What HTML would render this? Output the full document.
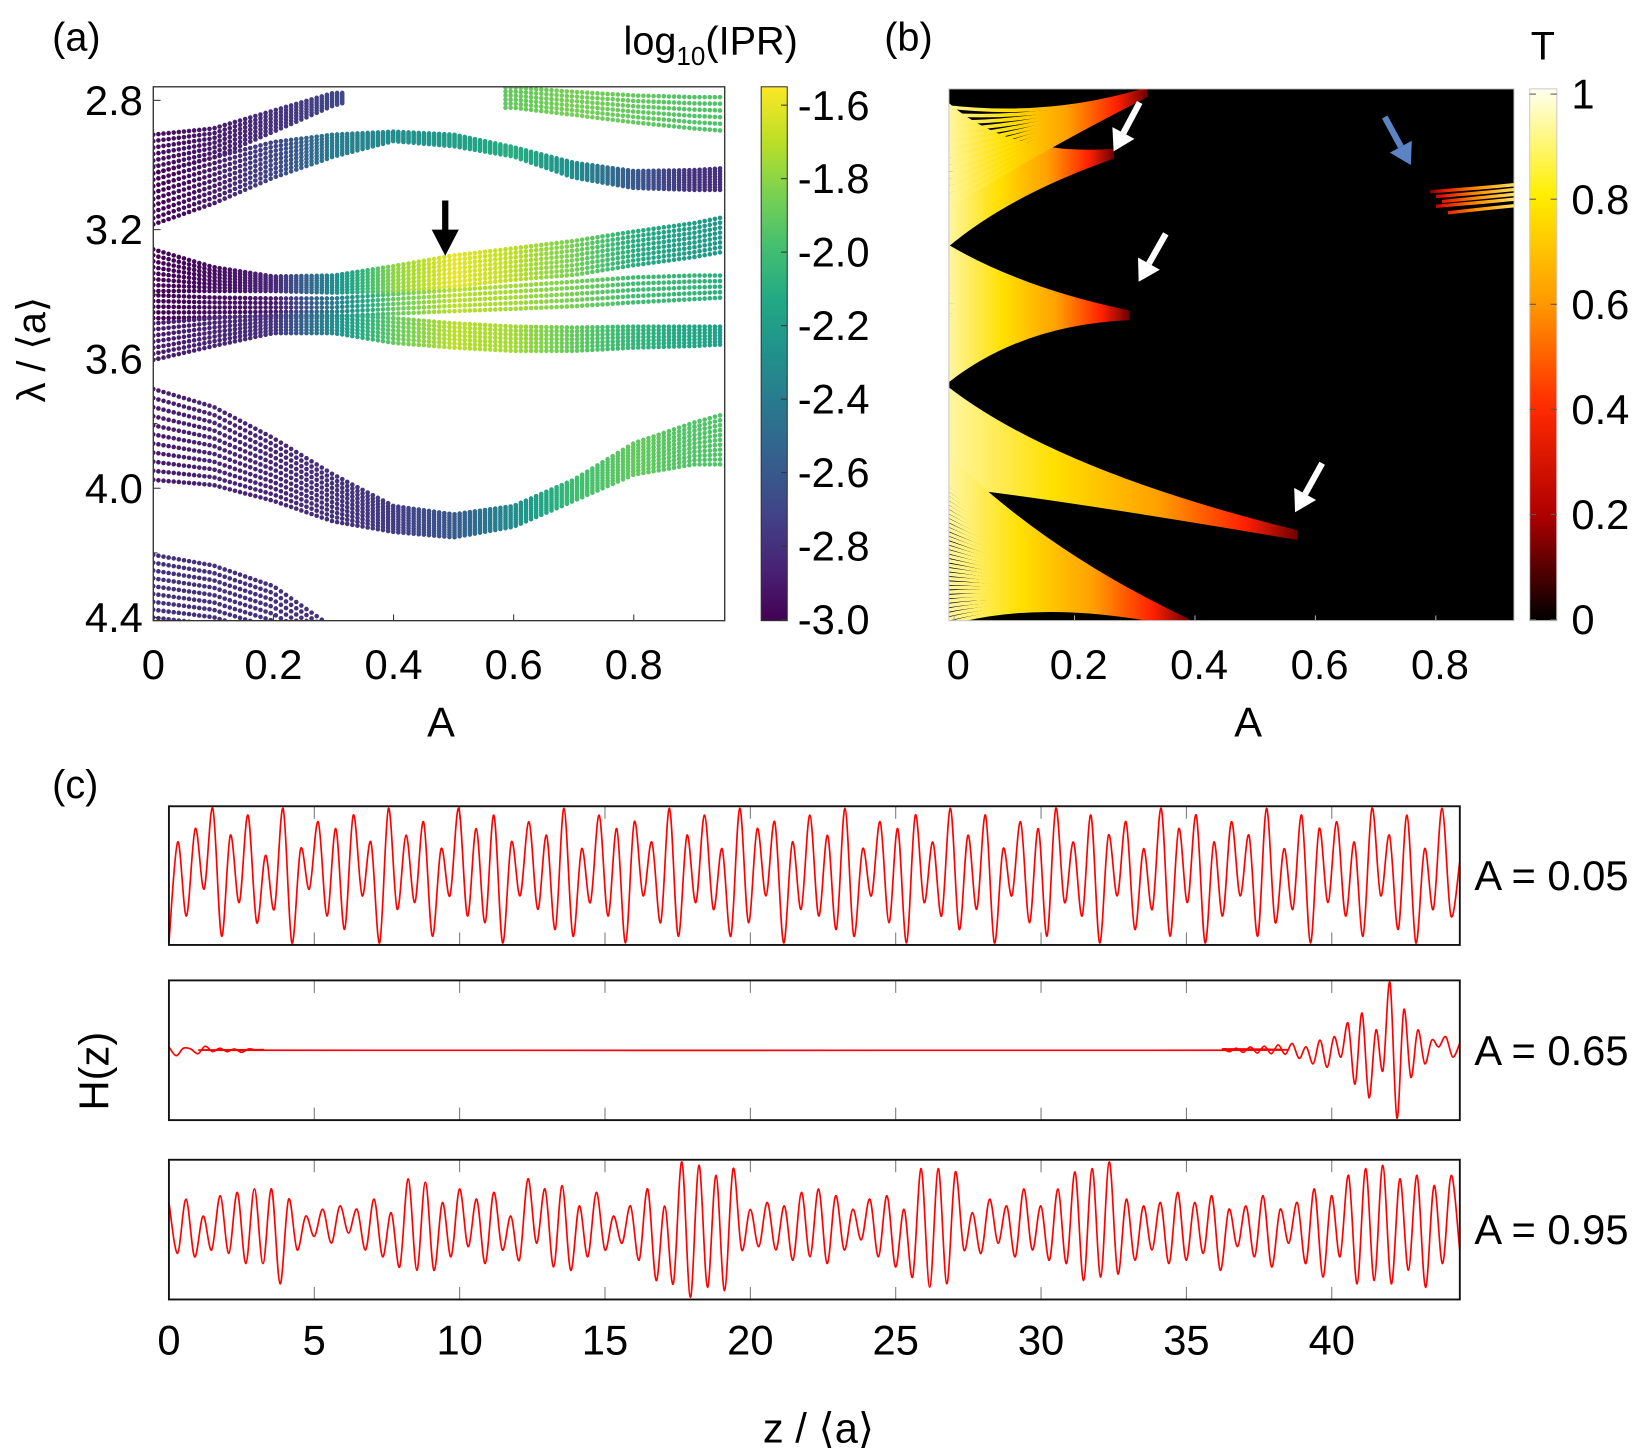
<!DOCTYPE html>
<html><head><meta charset="utf-8"><style>
html,body{margin:0;padding:0;background:#fff;}
svg{display:block;font-family:"Liberation Sans",sans-serif;}
</style></head><body>
<svg id="fig" width="1635" height="1453" viewBox="0 0 1568 1393" xmlns="http://www.w3.org/2000/svg">
<defs>
<linearGradient id="viridis" x1="0" y1="1" x2="0" y2="0">
<stop offset="0" stop-color="#440154"/><stop offset="0.1" stop-color="#482475"/><stop offset="0.2" stop-color="#414487"/><stop offset="0.3" stop-color="#355f8d"/><stop offset="0.4" stop-color="#2a788e"/><stop offset="0.5" stop-color="#21918c"/><stop offset="0.6" stop-color="#22a884"/><stop offset="0.7" stop-color="#44bf70"/><stop offset="0.8" stop-color="#7ad151"/><stop offset="0.9" stop-color="#bddf26"/><stop offset="1" stop-color="#fde725"/>
</linearGradient>
<linearGradient id="hot" x1="0" y1="1" x2="0" y2="0">
<stop offset="0" stop-color="#000"/><stop offset="0.2" stop-color="#b00000"/><stop offset="0.4" stop-color="#ff2a00"/><stop offset="0.6" stop-color="#ff9a00"/><stop offset="0.8" stop-color="#ffee00"/><stop offset="1" stop-color="#fffff0"/>
</linearGradient>
</defs>
<text x="50" y="48" font-size="38">(a)</text>
<text x="848" y="48" font-size="38">(b)</text>
<text x="50" y="765" font-size="38">(c)</text>
<g id="pa"></g>
<g id="pb"></g>
<g id="pc"></g>
</svg>
<script>
// ---------- Panel (a) data ----------
const aGrid=[0,0.1,0.2,0.3,0.4,0.5,0.6,0.7,0.8,0.9,0.95];
const bandNames=['upper-exit','arch','top-right','mid-upper','center','lower-mid','bowl','falling'];
const bandTop=[
 [2.906,2.887,2.832,2.777,null,null,null,null,null,null,null],
 [3.026,2.977,2.929,2.906,2.897,2.906,2.945,2.993,3.019,3.016,3.010],
 [null,null,null,null,null,null,2.760,2.774,2.785,2.790,2.790],
 [3.261,3.316,3.345,3.342,3.313,3.280,3.258,3.235,3.206,3.180,3.161],
 [3.403,3.410,3.413,3.413,3.400,3.387,3.374,3.361,3.348,3.342,3.342],
 [3.490,3.474,3.465,3.465,3.474,3.490,3.500,3.503,3.500,3.500,3.500],
 [3.693,3.748,3.845,3.958,4.055,4.081,4.055,3.974,3.861,3.797,3.771],
 [4.206,4.239,4.303,4.432,null,null,null,null,null,null,null]];
const bandBot=[
 [3.026,2.977,2.897,2.816,2.768,null,null,null,null,null,null],
 [3.184,3.119,3.039,2.974,2.926,2.942,2.974,3.039,3.071,3.077,3.077],
 [null,null,null,null,null,null,2.823,2.845,2.868,2.887,2.894],
 [3.39,3.39,3.39,3.395,3.39,3.375,3.355,3.34,3.31,3.285,3.268],
 [3.474,3.471,3.468,3.468,3.460,3.452,3.445,3.437,3.425,3.415,3.41],
 [3.603,3.56,3.52,3.52,3.55,3.565,3.575,3.575,3.565,3.56,3.555],
 [3.974,3.990,4.039,4.103,4.135,4.152,4.119,4.039,3.958,3.926,3.926],
 [4.497,4.513,4.561,4.62,null,null,null,null,null,null,null]];
const bandLines=[7,9,6,8,5,7,11,13];
const bandIPR=[
 [-2.95,-2.9,-2.8,-2.7,-2.6,-2.6,-2.6,-2.6,-2.6,-2.6,-2.6],
 [-3.0,-2.9,-2.7,-2.4,-2.3,-2.2,-2.1,-2.3,-2.6,-2.8,-2.8],
 [-1.9,-1.9,-1.9,-1.9,-1.9,-1.95,-1.9,-1.85,-1.9,-1.95,-1.95],
 [-3.0,-2.95,-2.85,-2.3,-1.8,-1.6,-1.7,-1.85,-2.1,-2.2,-2.25],
 [-3.0,-2.95,-2.9,-2.4,-1.9,-1.7,-1.75,-1.85,-2.0,-2.05,-2.1],
 [-2.9,-2.85,-2.8,-2.3,-1.9,-1.7,-1.75,-1.9,-2.05,-2.15,-2.2],
 [-2.9,-2.85,-2.85,-2.8,-2.75,-2.6,-2.3,-2.0,-1.9,-1.95,-1.95],
 [-2.8,-2.8,-2.8,-2.8,-2.8,-2.8,-2.8,-2.8,-2.8,-2.8,-2.8]];
const aXTicks=[0,0.2,0.4,0.6,0.8];
const aYTicks=[2.8,3.2,3.6,4.0,4.4];
const aYTickLabels=['2.8','3.2','3.6','4.0','4.4'];
const cbATicks=[-1.6,-1.8,-2.0,-2.2,-2.4,-2.6,-2.8,-3.0];
// ---------- Panel (b) data ----------
const bXTicks=[0,0.2,0.4,0.6,0.8];
const cbBTicks=[0,0.2,0.4,0.6,0.8,1];
const cbBTickLabels=['0','0.2','0.4','0.6','0.8','1'];
const fanLamTop=[2.81,2.82,3.25,3.69,3.90];
const fanLamBot=[3.25,3.13,3.67,3.99,4.42];
const fanTipA=[0.265,0.32,0.29,0.57,0.39];
const fanTipLam=[2.965,2.775,3.465,4.145,4.42];
const fanCtlA=[0.09,0.16,0.11,0.17,0.15];
const fanCtlLam=[3.035,2.87,3.43,4.04,4.30];
const fanCount=[40,14,40,30,38];
const streakLam=[3.07,3.085,3.10,3.115,3.135];
const streakStartA=[0.79,0.80,0.81,0.80,0.82];
// ---------- Panel (c) data ----------
const zTicks=[0,5,10,15,20,25,30,35,40];
const topVals=[-1,0.5,-0.6,0.7,-0.2,1,-0.9,0.6,-0.4,0.9,-0.7,0.3,-0.5,1,-1,0.4,-0.2,0.8,-0.6,0.7,-0.8,0.9,-0.3,0.5,-1,1,-0.5,0.6,-0.4,0.8,-0.9,0.4,-0.3,1,-0.6,0.7,-0.7,0.9,-1,0.5,-0.3,0.8,-0.5,0.6,-0.8,1,-0.9,0.4,-0.4,0.9,-0.6,0.7,-1,0.8,-0.3,0.5,-0.7,1,-0.9,0.6,-0.4,0.9,-0.5,0.4,-0.9,1,-0.7,0.7,-0.3,0.8,-1,0.5,-0.5,0.9,-0.6,0.6,-0.8,1,-0.9,0.4,-0.3,0.8,-0.7,0.7,-1,0.9,-0.4,0.5,-0.6,1,-0.8,0.6,-0.5,0.9,-1,0.4,-0.3,0.8,-0.7,0.7,-0.9,1,-0.4,0.5,-0.6,0.9,-1,0.6,-0.3,0.8,-0.8,0.4,-0.5,1,-0.9,0.7,-0.4,0.9,-1,0.5,-0.6,0.8,-0.3,0.6,-0.9,1,-0.7,0.4,-0.5,0.9,-1,0.7,-0.4,0.8,-0.6,0.5,-0.9,1,-0.3,0.6,-0.8,0.9,-1,0.4,-0.5,1,-0.6,0.2];
const midHead=[0.05,-0.08,0.03,0.02,-0.05,0.06,-0.02,0.03,-0.02,0.02,-0.03,0.02,0,0.01,0];
const midTail=[0,0.02,-0.02,0.03,-0.03,0.05,-0.04,0.06,-0.05,0.08,-0.06,0.1,-0.12,0.05,-0.2,0.15,-0.25,0.2,-0.1,0.4,-0.5,0.55,-0.7,0.3,-0.3,1,-1,0.6,-0.4,0.3,-0.2,0.15,0.05,0.2,-0.1,0.1];
const botVals=[0.4,-0.35,0.45,-0.4,0.2,-0.3,0.5,-0.35,0.55,-0.5,0.6,-0.5,0.6,-0.8,0.45,-0.3,0.2,-0.1,0.3,-0.2,0.35,-0.05,0.3,-0.3,0.45,-0.4,0.25,-0.55,0.75,-0.6,0.7,-0.6,0.4,-0.4,0.6,-0.25,0.45,-0.5,0.55,-0.3,0.2,-0.45,0.75,-0.2,0.6,-0.55,0.65,-0.6,0.35,-0.4,0.55,-0.3,0.2,-0.2,0.35,-0.45,0.6,-0.75,0.35,-0.8,1,-1,0.95,-0.85,0.8,-0.9,0.9,-0.3,0.3,-0.25,0.4,-0.3,0.35,-0.45,0.55,-0.4,0.6,-0.5,0.5,-0.3,0.3,-0.15,0.45,-0.4,0.5,-0.55,0.3,-0.7,0.9,-0.85,0.9,-0.8,0.85,-0.3,0.25,-0.35,0.45,-0.2,0.35,-0.4,0.6,-0.3,0.35,-0.45,0.6,-0.5,0.85,-0.75,0.9,-0.7,1,-0.65,0.45,-0.45,0.35,-0.3,0.4,-0.5,0.55,-0.45,0.4,-0.35,0.5,-0.6,0.3,-0.25,0.35,-0.4,0.5,-0.55,0.3,-0.2,0.4,-0.5,0.6,-0.7,0.5,-0.4,0.8,-0.8,0.9,-0.75,0.95,-0.8,0.75,-0.6,0.8,-0.85,0.65,-0.5,0.8,-0.3];

const NS='http://www.w3.org/2000/svg';
function mk(parent,tag,attrs,text){const e=document.createElementNS(NS,tag);for(const k in attrs)e.setAttribute(k,attrs[k]);if(text!==undefined)e.textContent=text;parent.appendChild(e);return e;}
function lerp(a,b,t){return a+(b-a)*t;}
function gridVal(arr,A){
 for(let i=0;i<aGrid.length-1;i++){ if(A>=aGrid[i]-1e-9&&A<=aGrid[i+1]+1e-9){const a=arr[i],b=arr[i+1];if(a==null||b==null){ if(a!=null&&A-aGrid[i]<0.02)return a; if(b!=null&&aGrid[i+1]-A<0.02)return b; return null;} return lerp(a,b,(A-aGrid[i])/(aGrid[i+1]-aGrid[i]));}}
 return null;}
const vir=['#440154','#482475','#414487','#355f8d','#2a788e','#21918c','#22a884','#44bf70','#7ad151','#bddf26','#fde725'];
function hex(h){return [parseInt(h.substr(1,2),16),parseInt(h.substr(3,2),16),parseInt(h.substr(5,2),16)];}
function viridis(t){t=Math.max(0,Math.min(1,t));const f=t*10,i=Math.min(9,Math.floor(f)),u=f-i;const a=hex(vir[i]),b=hex(vir[i+1]);return 'rgb('+a.map((v,k)=>Math.round(lerp(v,b[k],u))).join(',')+')';}

// ---------- Panel (a) ----------
const pa=document.getElementById('pa');
const ax={x0:147,x1:695,y0:83,y1:595};
const axX=A=>147+A*576;
const axY=l=>96+(l-2.8)*310;
const clipA=mk(document.querySelector('defs'),'clipPath',{id:'clipA'});
mk(clipA,'rect',{x:ax.x0,y:ax.y0,width:ax.x1-ax.x0,height:ax.y1-ax.y0});
const dots=mk(pa,'g',{'clip-path':'url(#clipA)'});


for(let b=0;b<bandNames.length;b++){
 const g=mk(dots,'g',{});
 
 
 for(let A=0;A<=0.951;A+=0.0085){
  const t=gridVal(bandTop[b],A),bo=gridVal(bandBot[b],A),ip=gridVal(bandIPR[b],A);
  if(t==null||bo==null)continue;
  const n=bandLines[b];
  for(let k=0;k<n;k++){
   const l=lerp(t,bo,k/(n-1));
   mk(g,'circle',{cx:axX(A).toFixed(1),cy:axY(l).toFixed(1),r:2.2,fill:viridis((ip+3.0)/1.45)});
  }
 }
}
mk(pa,'rect',{x:ax.x0,y:ax.y0,width:ax.x1-ax.x0,height:ax.y1-ax.y0,fill:'none',stroke:'#333','stroke-width':1.3});
aXTicks.forEach(v=>{const x=axX(v);mk(pa,'line',{x1:x,y1:ax.y1,x2:x,y2:ax.y1-6,stroke:'#333'});
 const t=mk(pa,'text',{x:x,y:651,'font-size':40,'text-anchor':'middle'},String(v));});
aYTicks.forEach((v,i)=>{const y=axY(v);mk(pa,'line',{x1:ax.x0,y1:y,x2:ax.x0+7,y2:y,stroke:'#333'});
 if(i<aYTicks.length-1)mk(pa,'line',{x1:ax.x0,y1:axY(v+0.2),x2:ax.x0+4,y2:axY(v+0.2),stroke:'#333'});
 const t=mk(pa,'text',{x:137,y:y+14,'font-size':40,'text-anchor':'end'},aYTickLabels[i]);});
let t=mk(pa,'text',{x:423,y:706,'font-size':40,'text-anchor':'middle'},'A');
t=mk(pa,'text',{x:0,y:0,'font-size':38,'text-anchor':'middle',transform:'translate(43,335) rotate(-90)'},'λ / ⟨a⟩');
mk(pa,'line',{x1:427,y1:192,x2:427,y2:228,stroke:'#000','stroke-width':6});
mk(pa,'polygon',{points:'414,220 440,220 427,245',fill:'#000'});
const cbA=mk(pa,'g',{});
mk(cbA,'rect',{x:730,y:83,width:25,height:512,fill:'url(#viridis)',stroke:'#333','stroke-width':1});
const cbAy=v=>594-(v+3.0)/1.45*511;
cbATicks.forEach(v=>{const y=cbAy(v);mk(cbA,'line',{x1:749,y1:y,x2:755,y2:y,stroke:'#333'});
 const tt=mk(cbA,'text',{x:765,y:y+14,'font-size':40},v.toFixed(1));});
t=mk(pa,'text',{x:598,y:52,'font-size':38},'');
t.innerHTML='log<tspan font-size="25" dy="10">10</tspan><tspan dy="-10">(IPR)</tspan>';

// ---------- Panel (b) ----------
const pb=document.getElementById('pb');
const bx={x0:910,x1:1452,y0:85,y1:595};
const bX=A=>915+A*577.5;
const bY=l=>96+(l-2.8)*310;
const clipB=mk(document.querySelector('defs'),'clipPath',{id:'clipB'});
mk(clipB,'rect',{x:bx.x0,y:bx.y0,width:bx.x1-bx.x0,height:bx.y1-bx.y0});
mk(pb,'rect',{x:bx.x0,y:bx.y0,width:bx.x1-bx.x0,height:bx.y1-bx.y0,fill:'#000'});
const fans=mk(pb,'g',{'clip-path':'url(#clipB)'});

const defs=document.querySelector('defs');
for(let f=0;f<fanCount.length;f++){
 const tipX=bX(fanTipA[f]),tipY=bY(fanTipLam[f]);
 const gr=mk(defs,'linearGradient',{id:'fg'+f,gradientUnits:'userSpaceOnUse',x1:bx.x0,y1:0,x2:tipX,y2:0});
 [['0','#fff6a0'],['0.3','#ffe000'],['0.6','#ffa000'],['0.85','#ff2000'],['1','#700000']].forEach(s=>mk(gr,'stop',{offset:s[0],'stop-color':s[1]}));
 const g=mk(fans,'g',{});
 
 const n=fanCount[f];
 for(let k=0;k<n;k++){
  const l=lerp(fanLamTop[f],fanLamBot[f],k/(n-1));
  const y0=bY(l);
  const cx=bX(fanCtlA[f]),cy=lerp(y0,bY(fanCtlLam[f]),0.75);
  mk(g,'path',{d:`M${bx.x0-2},${y0.toFixed(1)} Q${cx.toFixed(1)},${cy.toFixed(1)} ${tipX.toFixed(1)},${(tipY+(k/(n-1)-0.5)*6).toFixed(1)}`,fill:'none',stroke:'url(#fg'+f+')','stroke-width':3.4});
 }
}
const sgr=mk(defs,'linearGradient',{id:'sg',gradientUnits:'userSpaceOnUse',x1:bx.x1,y1:0,x2:1365,y2:0});
[['0','#ffe060'],['0.4','#ff9000'],['0.8','#e01000'],['1','#300000']].forEach(s=>mk(sgr,'stop',{offset:s[0],'stop-color':s[1]}));
const st=mk(fans,'g',{});
streakLam.forEach((l,i)=>{const y=bY(l);mk(st,'path',{d:`M${bX(streakStartA[i])},${y+4} Q${bX(0.88)},${y} ${bx.x1+2},${y-3}`,fill:'none',stroke:'url(#sg)','stroke-width':3.2});});
mk(pb,'rect',{x:bx.x0,y:bx.y0,width:bx.x1-bx.x0,height:bx.y1-bx.y0,fill:'none',stroke:'#ccc','stroke-width':1});
function arrow(x1,y1,x2,y2,col,name){const g=mk(pb,'g',{});
 const dx=x2-x1,dy=y2-y1,L=Math.hypot(dx,dy),ux=dx/L,uy=dy/L;const bxp=x2-ux*20,byp=y2-uy*20;
 mk(g,'line',{x1:x1,y1:y1,x2:bxp,y2:byp,stroke:col,'stroke-width':6});
 mk(g,'polygon',{points:`${x2},${y2} ${bxp-uy*12},${byp+ux*12} ${bxp+uy*12},${byp-ux*12}`,fill:col});}
arrow(1093,98,1068,145,'#fff','arrow-b-1');
arrow(1118,224,1092,270,'#fff','arrow-b-2');
arrow(1268,444,1242,491,'#fff','arrow-b-3');
arrow(1328,112,1353,158,'#5b84c4','arrow-b-blue');
bXTicks.forEach(v=>{const x=bX(v);mk(pb,'line',{x1:x,y1:bx.y1,x2:x,y2:bx.y1-5,stroke:'#aaa'});
 const tt=mk(pb,'text',{x:x+4,y:651,'font-size':40,'text-anchor':'middle'},String(v));});
t=mk(pb,'text',{x:1197,y:706,'font-size':40,'text-anchor':'middle'},'A');
const cbB=mk(pb,'g',{});
mk(cbB,'rect',{x:1467,y:85,width:26,height:510,fill:'url(#hot)',stroke:'#ccc','stroke-width':1});
cbBTicks.forEach((v,i)=>{const y=594-v*504;mk(cbB,'line',{x1:1467,y1:y,x2:1473,y2:y,stroke:'#555'});mk(cbB,'line',{x1:1487,y1:y,x2:1493,y2:y,stroke:'#555'});
 const tt=mk(cbB,'text',{x:1507,y:y+14,'font-size':40},cbBTickLabels[i]);});
t=mk(pb,'text',{x:1468,y:57,'font-size':38},'T');

// ---------- Panel (c) ----------
const pc=document.getElementById('pc');
const cX=z=>162+z*27.88;
const boxes=[{y0:773,y1:906,label:'A = 0.05'},{y0:940,y1:1074,label:'A = 0.65'},{y0:1112,y1:1246,label:'A = 0.95'}];
function smoothPath(pts){let d=`M${pts[0][0].toFixed(1)},${pts[0][1].toFixed(1)}`;
 for(let i=0;i<pts.length-1;i++){const p0=pts[Math.max(0,i-1)],p1=pts[i],p2=pts[i+1],p3=pts[Math.min(pts.length-1,i+2)];
  d+=` C${(p1[0]+(p2[0]-p0[0])/6).toFixed(1)},${(p1[1]+(p2[1]-p0[1])/6).toFixed(1)} ${(p2[0]-(p3[0]-p1[0])/6).toFixed(1)},${(p2[1]-(p3[1]-p1[1])/6).toFixed(1)} ${p2[0].toFixed(1)},${p2[1].toFixed(1)}`;}
 return d;}
function seriesPts(vals,z0,z1,box){const dz=(z1-z0)/(vals.length-1);const cy=(box.y0+box.y1)/2,amp=(box.y1-box.y0)/2-2;
 return vals.map((v,i)=>[cX(z0+i*dz),cy-v*amp]);}
const zMax=44.4;
const series=[
 seriesPts(topVals,0,zMax,boxes[0]),
 seriesPts(midHead,0,3.5,boxes[1]).concat(seriesPts(midTail,36,zMax,boxes[1])),
 seriesPts(botVals,0,zMax,boxes[2])];
boxes.forEach((b,i)=>{
 const g=mk(pc,'g',{});
 zTicks.forEach(z=>{const x=cX(z);mk(g,'line',{x1:x,y1:b.y0,x2:x,y2:b.y0+12,stroke:'#777'});mk(g,'line',{x1:x,y1:b.y1,x2:x,y2:b.y1-12,stroke:'#777'});});
 const p=mk(g,'path',{d:smoothPath(series[i]),fill:'none',stroke:'#ff0000','stroke-width':1.6});
 
 mk(g,'rect',{x:162,y:b.y0,width:1238,height:b.y1-b.y0,fill:'none',stroke:'#111','stroke-width':1.8});
 const tt=mk(g,'text',{x:1414,y:(b.y0+b.y1)/2+14,'font-size':40},b.label);
});
zTicks.forEach(z=>{const tt=mk(pc,'text',{x:cX(z),y:1299,'font-size':40,'text-anchor':'middle'},String(z));});
t=mk(pc,'text',{x:785,y:1383,'font-size':40,'text-anchor':'middle'},'z / ⟨a⟩');
t=mk(pc,'text',{x:0,y:0,'font-size':40,'text-anchor':'middle',transform:'translate(104,1027) rotate(-90)'},'H(z)');
</script>
</body></html>
